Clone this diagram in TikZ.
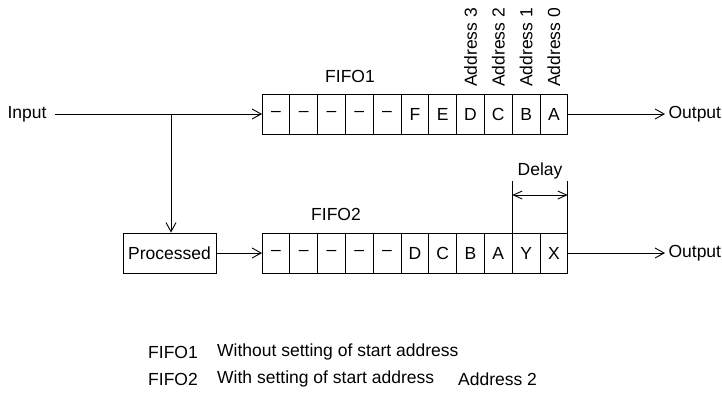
\documentclass[tikz,border=0pt]{standalone}
\usepackage{fontspec}
\setmainfont{Liberation Sans}
\usetikzlibrary{arrows.meta, positioning, calc}

\begin{document}
\begin{tikzpicture}[
    x=1pt, y=-1pt,
    every node/.style={font=\fontsize{17.5}{20}\selectfont},
    cell/.style={draw, line width=1pt, minimum width=27.8pt, minimum height=40pt, inner sep=0pt, outer sep=0pt},
    procbox/.style={draw, line width=1pt, minimum width=93pt, minimum height=40pt, inner sep=1pt},
    arrow/.style={-{Straight Barb[length=9pt, width=10pt]}, line width=0.9pt},
    dblarrow/.style={{Straight Barb[length=9pt, width=8pt]}-{Straight Barb[length=9pt, width=8pt]}, line width=0.9pt},
    addr/.style={rotate=90, anchor=west, inner sep=0pt}
]
\useasboundingbox (0,0) rectangle (722,394);

% FIFO1 row
\node[cell] (f1c0) at (275.9,114) {--};
\foreach \t [count=\i from 1, remember=\i as \j (initially 0)] in {--,--,--,--,F,E,D,C,B,A}
    \node[cell, right=0pt of f1c\j] (f1c\i) {\t};

% FIFO2 row
\node[cell] (f2c0) at (275.9,253) {--};
\foreach \t [count=\i from 1, remember=\i as \j (initially 0)] in {--,--,--,--,D,C,B,A,Y,X}
    \node[cell, right=0pt of f2c\j] (f2c\i) {\t};

\node (fifo1) at (350,76) {FIFO1};
\node (fifo2) at (336,214) {FIFO2};

% addresses
\node[addr] (adr3) at ($(f1c7.north)+(0,-7)$) {Address 3};
\node[addr] (adr2) at ($(f1c8.north)+(0,-7)$) {Address 2};
\node[addr] (adr1) at ($(f1c9.north)+(0,-7)$) {Address 1};
\node[addr] (adr0) at ($(f1c10.north)+(0,-7)$) {Address 0};

\node[anchor=east] (input) at (50,114) {Input};
\node[anchor=west] (out1) at (665,114) {Output};
\node[anchor=west] (out2) at (665,253) {Output};
\node[procbox] (proc) at (169.5,253) {Processed};
\coordinate (br) at (171,114);

\draw[arrow, shorten <=5pt] (input) -- (f1c0.west);
\draw[arrow] (br) -- (br |- proc.north);
\draw[arrow] (proc) -- (f2c0.west);
\draw[arrow] (f1c10.east) -- (out1.west);
\draw[arrow] (f2c10.east) -- (out2.west);

% delay
\coordinate (dl) at ($(f2c9.north west)+(0,-52)$);
\coordinate (dr) at ($(f2c10.north east)+(0,-52)$);
\draw[line width=0.9pt] (f2c9.north west) -- (dl);
\draw[line width=0.9pt] (f2c10.north east) -- (dr);
\draw[dblarrow] ($(dl)+(0,14)$) -- ($(dr)+(0,14)$);
\node (delay) at ($(dl)!0.5!(dr)+(0,-10)$) {Delay};

% legend
\node[anchor=west, inner sep=0pt] (lg1) at (148,352) {FIFO1};
\node[anchor=west, inner sep=0pt] (lt1) at (217,352) {Without setting of start address};
\node[anchor=west, inner sep=0pt] (lg2) at (148,379) {FIFO2};
\node[anchor=west, inner sep=0pt] (lt2) at (217,379) {With setting of start address};
\node[anchor=west, inner sep=0pt] (la2) at (458,379) {Address 2};
\end{tikzpicture}
\end{document}
